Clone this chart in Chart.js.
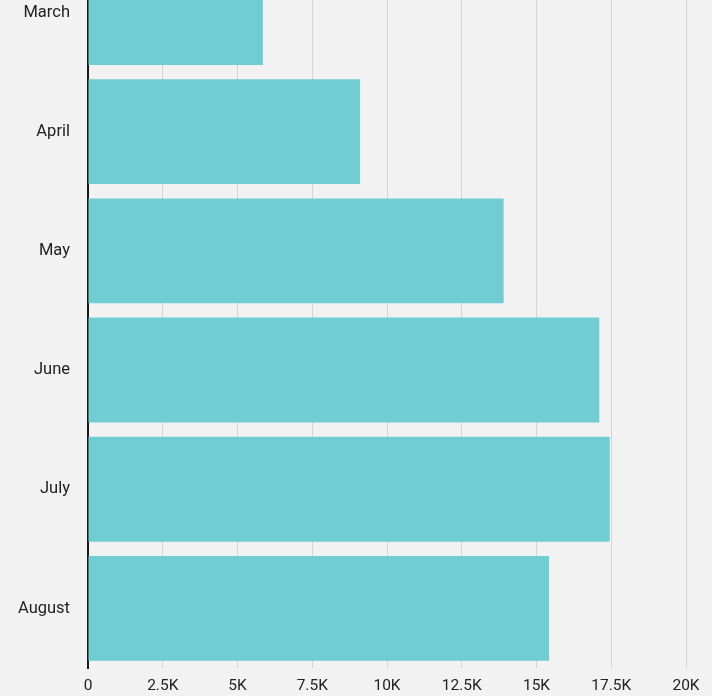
<!DOCTYPE html>
<html>
<head>
<meta charset="utf-8">
<script src="https://cdn.jsdelivr.net/npm/chart.js@4"></script>
<style>
  html, body { margin: 0; padding: 0; background: #f2f2f2; overflow: hidden; width: 712px; height: 696px; }
  #wrap { position: absolute; left: 0; top: -75px; width: 712px; height: 771px; }
</style>
</head>
<body>
<div id="wrap"><canvas id="c" width="712" height="771"></canvas></div>
<script>
const categories = ["March", "April", "May", "June", "July", "August"];
const values = [5850, 9100, 13900, 17100, 17450, 15420];
const xTicks = [0, 2500, 5000, 7500, 10000, 12500, 15000, 17500, 20000];
const xTickLabels = ["0", "2.5K", "5K", "7.5K", "10K", "12.5K", "15K", "17.5K", "20K"];

const bg = {
  id: 'bg',
  beforeDraw(chart) {
    const ctx = chart.ctx;
    ctx.save();
    ctx.fillStyle = '#f2f2f2';
    ctx.fillRect(0, 0, chart.width, chart.height);
    ctx.restore();
  }
};

new Chart(document.getElementById('c'), {
  type: 'bar',
  data: {
    labels: categories,
    datasets: [{
      data: values,
      backgroundColor: '#70cdd2',
      borderWidth: 0,
      barPercentage: 0.88,
      categoryPercentage: 1.0
    }]
  },
  options: {
    indexAxis: 'y',
    responsive: false,
    animation: false,
    layout: { padding: { top: 0, right: 26, left: 0, bottom: 0 } },
    plugins: { legend: { display: false }, tooltip: { enabled: false } },
    scales: {
      x: {
        min: 0,
        max: 20000,
        afterBuildTicks(scale) { scale.ticks = xTicks.map(v => ({ value: v })); },
        afterFit(scale) { scale.height = 28; },
        grid: { color: '#d4d4d4', lineWidth: 1, drawTicks: false },
        border: { display: false },
        ticks: {
          padding: 9,
          color: '#222',
          font: { family: 'Roboto', size: 15.5 },
          maxRotation: 0,
          callback(v, i) { return xTickLabels[i]; }
        }
      },
      y: {
        afterFit(scale) { scale.width = 88; },
        grid: { display: false, drawTicks: false },
        border: { display: true, color: '#1a1a1a', width: 2 },
        ticks: {
          padding: 18,
          color: '#222',
          font: { family: 'Roboto', size: 16.5 }
        }
      }
    }
  },
  plugins: [bg]
});
</script>
</body>
</html>
